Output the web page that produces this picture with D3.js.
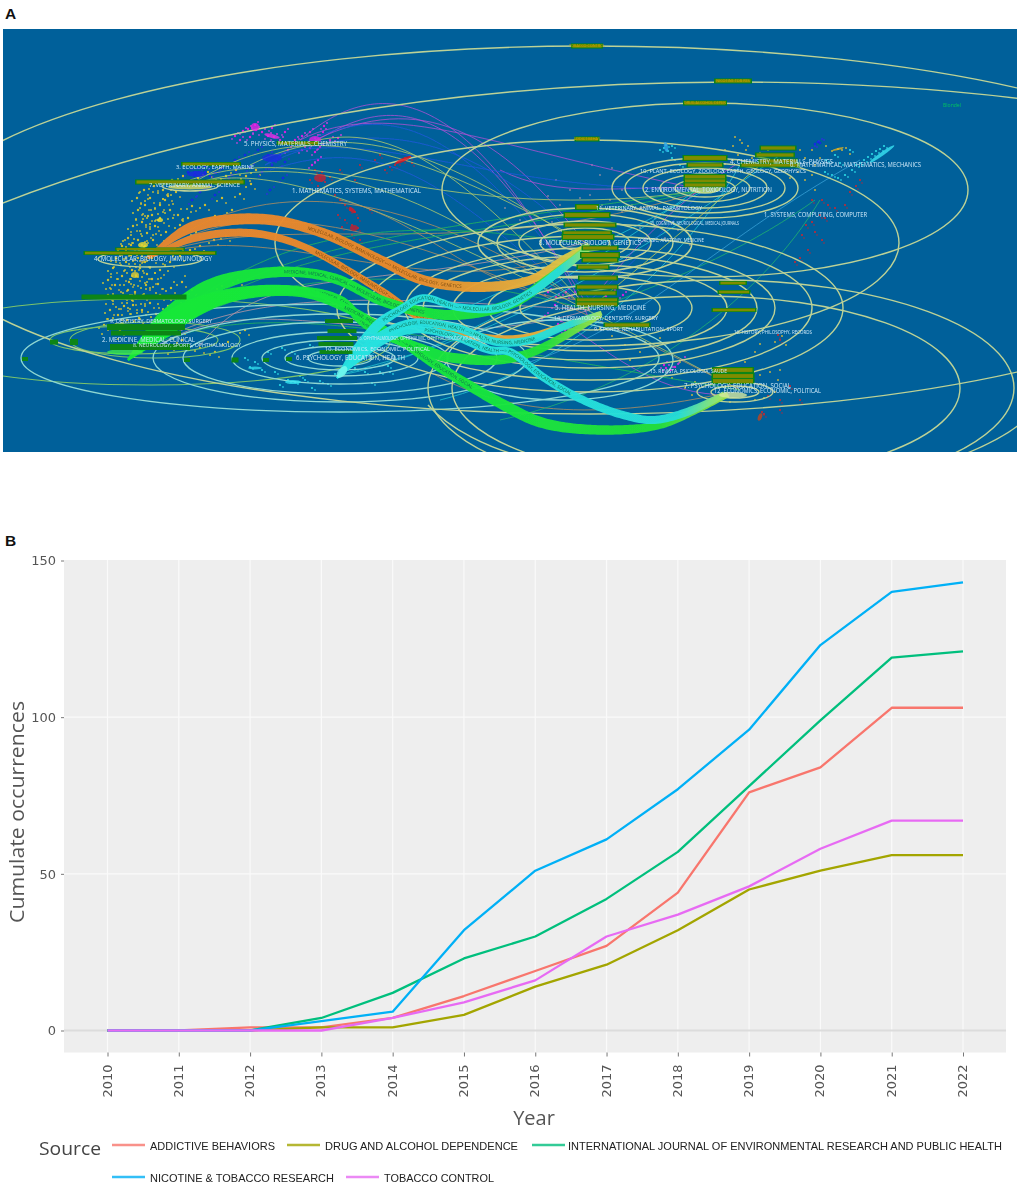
<!DOCTYPE html>
<html>
<head>
<meta charset="utf-8">
<script src="https://cdn.jsdelivr.net/npm/d3@7/dist/d3.min.js"></script>
<style>
html,body{margin:0;padding:0;background:#fff;overflow:hidden}
svg{display:block}
</style>
</head>
<body>
<svg id="c" width="1021" height="1194"></svg>
<script>
// ---------- Panel B data ----------
const years = [2010,2011,2012,2013,2014,2015,2016,2017,2018,2019,2020,2021,2022];
const addictiveBehaviors = [0,0,1,1,4,11,19,27,44,76,84,103,103];
const drugAlcohol       = [0,0,0,1,1,5,14,21,32,45,51,56,56];
const ijerph            = [0,0,0,4,12,23,30,42,57,78,99,119,121];
const nicotineTobacco   = [0,0,0,3,6,32,51,61,77,96,123,140,143];
const tobaccoControl    = [0,0,0,0,4,9,16,30,37,46,58,67,67];
const sourceNames = ["ADDICTIVE BEHAVIORS","DRUG AND ALCOHOL DEPENDENCE","INTERNATIONAL JOURNAL OF ENVIRONMENTAL RESEARCH AND PUBLIC HEALTH","NICOTINE & TOBACCO RESEARCH","TOBACCO CONTROL"];
const sourceColors = ["#F8766D","#A3A500","#00BF7D","#00B0F6","#E76BF3"];
const seriesValues = [addictiveBehaviors,drugAlcohol,ijerph,nicotineTobacco,tobaccoControl];
const yTicks = [0,50,100,150];

// ---------- Panel A data (map units) ----------
const ringsPale = [
 [590,230,672,184],[733,562,1100,480],[705,190,263,87],[587,243,312,103],
 [705,188,93,30],[705,188,80,25],[705,188,62,20],[705,188,45,14],[705,188,30,9],[705,188,15,5],
 [585,243,107,35],[585,243,88,29],[585,243,66,22],[585,243,45,15],[585,243,25,8],
 [590,308,70,22],[590,308,102,32],[590,308,137,43],[590,308,167,52],[590,308,185,60],[590,308,222,72],[590,308,253,84],
 [706,388,254,92],[721,388,293,108],[735,392,38,10],[735,392,24,6],[150,259,52,8],[190,186,28,5]
];
const ringsTeal = [[340,358,32,8],[340,358,55,12],[340,358,78,18],[340,358,108,26],[340,358,157,36],[340,358,187,44],[340,358,319,54],[560,360,113,40]];
const ringsGreen = [[134,340,84,14],[155,340,85,18],[150,342,240,43]];
const paleArcs = [[960,456,985,446,1005,436,1020,424],[428,405,450,430,490,448,520,456]];
const thinCurves = [
 ["#b44fd6",300,140,380,72,470,82,590,320],["#b44fd6",310,145,400,85,470,105,590,310],
 ["#b44fd6",300,140,390,95,500,150,705,190],["#b44fd6",315,140,420,90,500,130,585,243],
 ["#b44fd6",560,320,620,360,660,395,730,395],["#b44fd6",500,170,560,200,620,185,705,188],
 ["#1f57e0",265,165,380,90,450,110,590,300],["#1f57e0",265,165,380,110,480,140,590,250],
 ["#1f57e0",260,160,370,120,470,190,705,190],["#1f57e0",270,170,390,130,450,190,590,310],
 ["#b9d06a",190,185,300,115,400,140,590,245],["#b9d06a",190,185,300,150,420,180,590,310],
 ["#b9d06a",190,185,280,155,420,220,740,390],["#b9d06a",250,165,350,115,440,150,590,250],
 ["#b9d06a",190,180,320,135,440,230,705,190],["#b9d06a",300,145,390,115,460,170,590,310],
 ["#b98f5c",150,257,260,165,420,190,590,310],["#b98f5c",150,257,260,180,430,230,740,390],
 ["#b98f5c",150,257,280,205,460,270,705,190],["#b98f5c",140,262,260,205,440,320,590,245],
 ["#b98f5c",340,200,430,220,480,300,590,300],["#b98f5c",430,372,480,400,560,430,730,392],
 ["#25b85a",130,358,260,220,400,215,590,245],["#25b85a",130,358,250,240,400,235,705,190],
 ["#25b85a",130,358,250,260,420,265,590,310],["#25b85a",130,358,240,285,430,340,740,390],
 ["#25b85a",140,350,280,230,460,245,705,190],
 ["#c59aa5",140,350,250,290,350,295,590,310],["#c59aa5",200,345,270,260,360,295,585,243],
 ["#c59aa5",160,345,260,280,400,365,590,310],
 ["#25c9d5",340,375,400,330,500,300,705,190],["#25c9d5",340,375,420,350,520,340,780,155],
 ["#25c9d5",340,375,430,360,560,290,710,180],["#25c9d5",440,400,560,370,680,270,740,165],
 ["#21b46e",500,420,640,390,760,300,820,200],["#21b46e",590,310,680,280,760,240,815,200],
 ["#3aa0d8",520,365,640,330,700,250,860,160],["#d1d64a",600,300,660,250,720,200,760,165],
 ["#1f57e0",590,300,640,260,680,210,710,185],["#b44fd6",600,290,640,240,680,200,735,165]
];
const ribbons = [
 {name:"MOLECULAR, BIOLOGY, IMMUNOLOGY ---> MOLECULAR, BIOLOGY, GENETICS",kind:"orange",pts:[[148,258],[190,228],[260,219],[320,232],[380,260],[423,280],[477,287],[530,280],[567,257],[590,245]],w:[3,11,11,10,10,10,10,10,8,6]},
 {name:"MOLECULAR, BIOLOGY, IMMUNOLOGY ---> HEALTH, NURSING, MEDICINE",kind:"orange",pts:[[148,258],[195,238],[250,233],[300,245],[380,290],[420,317],[480,337],[523,338],[573,323],[600,314]],w:[3,8,8,7,7,8,8,8,7,5]},
 {name:"MEDICINE, MEDICAL, CLINICAL ---> MOLECULAR, BIOLOGY, GENETICS",kind:"green",pts:[[128,360],[165,320],[215,285],[277,272],[333,278],[380,300],[413,310],[457,315],[513,303],[547,280],[588,247]],w:[2,18,17,11,10,10,10,10,10,9,6]},
 {name:"MEDICINE, MEDICAL, CLINICAL ---> HEALTH, NURSING, MEDICINE",kind:"green",pts:[[128,360],[180,315],[230,295],[290,290],[340,300],[367,325],[433,353],[447,357],[497,360],[530,353],[570,333],[602,314]],w:[2,22,16,11,9,9,9,10,10,9,8,5]},
 {name:"MEDICINE, MEDICAL, CLINICAL ---> PSYCHOLOGY, EDUCATION, SOCIAL",kind:"green",pts:[[128,360],[180,318],[230,296],[300,292],[350,310],[400,340],[433,363],[500,403],[543,423],[603,430],[660,425],[697,410],[730,393]],w:[2,18,13,11,9,8,9,10,11,10,9,7,6]},
 {name:"PSYCHOLOGY, EDUCATION, HEALTH ---> MOLECULAR, BIOLOGY, GENETICS",kind:"cyan",pts:[[337,378],[365,340],[380,323],[400,310],[423,298],[457,307],[497,308],[530,293],[557,273],[590,247]],w:[2,11,10,8,7,8,8,8,8,6]},
 {name:"PSYCHOLOGY, EDUCATION, HEALTH ---> HEALTH, NURSING, MEDICINE",kind:"cyan",pts:[[337,378],[370,345],[380,337],[413,323],[457,328],[497,342],[530,340],[563,327],[602,313]],w:[2,10,10,8,8,8,8,7,5]},
 {name:"PSYCHOLOGY, EDUCATION, HEALTH ---> PSYCHOLOGY, EDUCATION, SOCIAL",kind:"cyan",pts:[[337,378],[375,345],[410,330],[450,335],[490,350],[510,352],[543,377],[583,400],[623,415],[653,420],[687,412],[725,394]],w:[2,9,8,7,8,8,8,8,8,8,8,6]}
];
const ribbonColors = {orange:["#e8862c","#eb8a2a","#e6b23c","#c8d84c"],green:["#14e838","#18e63c","#22e03a","#a4e04c"],cyan:["#28e2e0","#26e0dc","#26dcd8","#a8e45c"]};
const journalBars = [
 [587,46,32,5],[733,81,38,5],[705,103,44,5],[587,139,25,5],
 [587,207,24,6],[587,215,47,6],[590,225,53,5],[587,233,50,5],[588,237,53,6],[600,248,37,5],[600,255,40,6],[600,260,37,5],[593,267,33,5],
 [598,278,40,5],[597,287,43,5],[597,293,40,5],[597,300,43,5],[597,304,43,5],[627,325,47,5],
 [705,158,45,6],[705,165,37,5],[705,177,43,6],[705,181,43,5],[705,185,43,5],
 [778,148,37,5],[775,155,40,5],[770,165,60,5],[778,161,40,5],
 [733,283,28,4],[734,292,33,4],[734,310,45,4],[733,370,42,6],[733,376,43,6],[733,381,43,6],
 [150,253,133,4],[150,249,70,3],[134,297,105,5],[190,182,110,5],[211,164,60,4],[298,143,43,4],
 [146,327,78,6],[146,333,70,5],[150,347,80,6],
 [339,321,28,4],[342,331,29,4],[337,338,40,4],[336,344,35,4],[336,352,33,4],
 [54,342,8,5],[74,342,8,6],[25,359,6,4],[187,360,6,4],[235,360,7,5],[266,360,6,4],[289,359,6,4]
];
const journalNames = ["TOBACCO CONTROL","NICOTINE TOB RES","DRUG ALCOHOL DEPEN","ADDICT BEHAV"];
const disciplineLabels = [
 ["5. PHYSICS, MATERIALS, CHEMISTRY",244,146,103,6.2],["3. ECOLOGY, EARTH, MARINE",176,169,78,5.6],["7. VETERINARY, ANIMAL, SCIENCE",149,187,91,5.6],
 ["1. MATHEMATICS, SYSTEMS, MATHEMATICAL",292,193,129,6.2],["4. MOLECULAR, BIOLOGY, IMMUNOLOGY",94,261,118,6.2],["9. DENTISTRY, DERMATOLOGY, SURGERY",110,323,102,5.6],
 ["2. MEDICINE, MEDICAL, CLINICAL",102,342,93,6.2],["8. NEUROLOGY, SPORTS, OPHTHALMOLOGY",133,347,108,5.4],["10. ECONOMICS, ECONOMIC, POLITICAL",325,351,105,5.6],
 ["6. PSYCHOLOGY, EDUCATION, HEALTH",296,360,109,6.2],["16. OPHTHALMOLOGY, OPHTHALMIC, OPHTHALMOLOGY JOURNAL",357,340,123,4.6],
 ["4. CHEMISTRY, MATERIALS, PHYSICS",730,164,103,6.2],["6. MATHEMATICAL, MATHEMATICS, MECHANICS",790,167,131,6.2],["10. PLANT, ECOLOGY, ZOOLOGY",640,173,85,6],
 ["3. EARTH, GEOLOGY, GEOPHYSICS",721,173,85,6],["2. ENVIRONMENTAL, TOXICOLOGY, NUTRITION",645,192,127,6.2],["1. SYSTEMS, COMPUTING, COMPUTER",764,217,103,6.2],
 ["11. VETERINARY, ANIMAL, PARASITOLOGY",596,210,106,5.6],["15. COGNITIVE, NEUROLOGICAL, MEDICAL JOURNALS",650,225,89,4.6],["FORENSIC, ANATOMY, MEDICINE",638,242,66,4.6],
 ["8. MOLECULAR, BIOLOGY, GENETICS",539,245,102,6.4],["5. HEALTH, NURSING, MEDICINE",555,310,91,6.2],["14. DERMATOLOGY, DENTISTRY, SURGERY",554,320,104,5.6],
 ["9. SPORTS, REHABILITATION, SPORT",594,331,89,5.6],["16. HISTORY, PHILOSOPHY, RECORDS",734,334,78,4.8],["13. REVISTA, PSICOLOGIA, SAUDE",650,373,77,5.6],
 ["7. PSYCHOLOGY, EDUCATION, SOCIAL",684,388,107,6.2],["12. ECONOMICS, ECONOMIC, POLITICAL",714,393,107,6.2]
];
const yellowCloud = [[138,210],[142,222],[147,233],[133,226],[128,238],[152,215],[160,205],[168,196],[176,192],[155,226],[160,218],[170,210],[145,205],[150,198],[165,200],[122,246],[131,245],[138,240],[144,247],[153,240],[166,232],[180,225],[188,218],[118,250],[126,262],[132,270],[140,268],[147,274],[136,276],[129,282],[122,276],[115,285],[146,285],[152,279],[160,270],[170,262],[180,256],[190,250],[200,246],[214,240],[226,236],[128,290],[135,292],[143,295],[118,298],[124,306],[133,305],[142,310],[150,303],[160,295],[171,288],[182,282],[192,290],[113,268],[108,280],[110,310],[118,315],[127,320],[139,318],[156,314],[168,306],[186,300],[204,296],[222,286],[238,280],[120,330],[132,300],[145,262],[152,258],[158,284],[138,258],[131,255],[126,250],[142,252],[148,216],[137,198],[144,190],[154,186],[163,190],[172,180],[183,176],[198,178],[208,172],[216,180],[226,176],[236,170],[246,176],[256,170],[251,184],[240,194],[222,198],[205,205],[192,206],[178,215],[196,232],[215,216],[232,210],[116,258],[108,295],[104,325],[170,345],[182,340],[200,348],[215,352],[228,342],[245,330]];
const goldRightCloud = [[725,150],[733,146],[738,155],[746,150],[752,158],[760,153],[768,150],[776,156],[792,154],[800,150],[805,158],[812,150],[832,151],[838,149],[842,150],[846,148],[826,146],[720,158],[733,160],[742,143],[748,146],[725,164],[815,165],[812,175],[805,180],[815,190],[798,172],[790,178],[735,137],[740,140],[850,154],[820,158],[600,328],[612,336],[625,345],[640,352],[630,360],[645,342],[660,338],[680,362],[695,382],[672,378],[685,388],[700,370],[760,375],[770,372],[778,380],[775,392],[764,398],[755,400],[730,402],[717,399],[692,395],[780,370],[745,362],[755,352],[760,344],[775,342],[782,336],[786,345]];
const magentaCloud = [[255,125],[256,130],[248,129],[262,132],[268,136],[274,137],[280,140],[250,137],[243,131],[272,128],[285,132],[295,140],[302,136],[310,132],[315,138],[310,148],[315,152],[320,147],[324,126],[323,132],[338,138],[330,140],[302,150],[288,150],[240,140],[235,136],[318,160],[312,165],[548,292],[556,297],[566,292],[555,305],[545,316],[558,324],[565,330],[572,295],[615,290],[623,295],[606,296],[664,365],[666,368],[670,370],[675,367],[682,360]];
const blueCloud = [[188,172],[195,175],[205,172],[198,168],[210,176],[222,168],[235,160],[245,155],[258,150],[268,155],[275,160],[280,155],[272,165],[285,162],[210,185],[215,195],[200,192],[225,180],[192,200],[270,190],[283,178],[818,142],[820,143],[815,144],[232,175],[250,167],[262,172],[205,166],[216,173],[196,180]];
const redCloud = [[403,160],[398,162],[405,158],[410,157],[395,165],[390,167],[412,163],[385,170],[375,160],[360,165],[380,155],[315,170],[320,178],[310,180],[325,182],[330,177],[318,186],[322,172],[345,205],[350,210],[355,212],[340,200],[335,195],[338,215],[345,220],[352,225],[358,218],[370,210],[342,227],[352,235],[360,240],[348,245],[358,228],[355,180],[340,170],[822,200],[828,205],[835,208],[845,205],[812,200],[820,215],[812,222],[815,232],[806,225],[822,240],[808,250],[800,258],[795,262],[802,235],[825,218],[860,180],[856,186],[850,192],[780,400],[762,412],[764,414],[768,396],[790,386],[780,410],[800,400],[778,335],[780,340]];
const cyanCloud = [[884,146],[880,149],[876,151],[872,154],[868,157],[864,160],[860,163],[856,165],[852,170],[840,163],[845,175],[838,178],[832,175],[825,172],[850,150],[835,155],[826,160],[666,145],[664,148],[668,151],[660,150],[672,146],[672,158],[680,165],[250,367],[262,370],[275,372],[288,380],[295,382],[305,380],[320,381],[335,374],[345,368],[355,368],[365,372],[328,384],[300,376],[280,385],[312,388],[245,358],[255,362],[268,352],[282,348],[292,352],[310,345],[372,345],[380,372],[390,372],[372,383],[388,366]];
const pinkCloud = [[600,175],[612,168],[622,190],[590,195],[602,205],[580,198],[570,190],[610,200],[622,212],[560,205],[548,196],[632,205],[640,208],[655,218],[570,232],[552,222],[505,208],[520,220],[535,228],[556,180],[592,165],[640,228],[665,238],[678,230],[690,245],[700,260]];
const densityPatches = [
 [882,154,15,1.8,-35,"#38e4f2"],[666,147,2,5,-10,"#2fa5ea"],[838,149,6,1.1,-15,"#e0b020"],[403,160,9,1.8,-25,"#e2141c"],
 [190,187,22,2.6,0,"#e6e25a"],[143,245,5,3,0,"#f2e02a"],[160,220,3,2,0,"#f2e02a"],[135,275,4,3,0,"#e6cf30"],[125,352,18,3,0,"#38e84a"],
 [760,417,2,4,20,"#c0441a"],[255,127,4,4,0,"#e620e6"],[272,136,8,2,15,"#e62ee6"],[315,140,6,4,0,"#d824e0"],
 [197,174,10,3,0,"#1a24e6"],[272,158,10,4,0,"#1a2ce0"],[320,178,6,4,0,"#c8202e"],[352,210,4,2,40,"#e01822"],[354,228,4,3,0,"#c02030"],
 [293,382,8,2,0,"#36e6f2"],[255,368,7,1.4,0,"#30d8ea"],[342,372,7,4,-50,"#7afcf0"],[733,395,14,3,0,"#d5e8a0"],[705,189,16,4,0,"#c2e07a"]
];

// ---------- Layout ----------
const W = 1021;
const svg = d3.select("#c");
const defs = svg.append("defs");
const sf = defs.append("filter").attr("id","soft").attr("x","-2%").attr("y","-2%").attr("width","104%").attr("height","104%");
sf.append("feGaussianBlur").attr("stdDeviation",0.5);
const sfb = defs.append("filter").attr("id","softB").attr("filterUnits","userSpaceOnUse").attr("x",0).attr("y",480).attr("width",W).attr("height",714);
sfb.append("feGaussianBlur").attr("stdDeviation",0.4);
const panelA = {x0:3,x1:1017,y0:29,y1:452};
defs.append("clipPath").attr("id","clipA").append("rect").attr("x",panelA.x0).attr("y",panelA.y0).attr("width",panelA.x1-panelA.x0).attr("height",panelA.y1-panelA.y0);

svg.append("rect").attr("width",W).attr("height",1194).attr("fill","#fff");
svg.append("text").text("A").attr("x",5).attr("y",19).attr("font-family","'Liberation Sans',Arial,sans-serif").attr("font-weight","700").attr("font-size",15.5).attr("fill","#111");
svg.append("text").text("B").attr("x",5).attr("y",546).attr("font-family","'Liberation Sans',Arial,sans-serif").attr("font-weight","700").attr("font-size",15.5).attr("fill","#111");

// ---------- Panel A ----------
const mx = d3.scaleLinear().domain([3,1017]).range([panelA.x0,panelA.x1]);
const my = d3.scaleLinear().domain([29,452]).range([panelA.y0,panelA.y1]);
const A = svg.append("g").attr("clip-path","url(#clipA)").append("g").attr("filter","url(#soft)");
A.append("rect").attr("x",panelA.x0).attr("y",panelA.y0).attr("width",panelA.x1-panelA.x0).attr("height",panelA.y1-panelA.y0).attr("fill","#00619a");

function dots(arr,color,r,op){
  A.append("g").selectAll("circle").data(arr).join("circle")
   .attr("cx",d=>mx(d[0])).attr("cy",d=>my(d[1])).attr("r",r).attr("fill",color).attr("opacity",op);
}
const shifted=(arr,a,b)=>arr.map(d=>[d[0]+a,d[1]+b]);
dots(pinkCloud,"#c59aa5",0.9,0.7);
dots(yellowCloud,"#d9c42e",1.2,0.95);
dots(shifted(yellowCloud,4,5),"#cdb83a",1,0.85);
dots(shifted(yellowCloud,-5,3),"#e2cf2a",1,0.85);
dots(shifted(yellowCloud.filter(d=>d[0]<190&&d[1]>195),3,-6),"#dcc62c",1,0.85);
dots(shifted(yellowCloud.filter(d=>d[0]<175&&d[1]>200),-2,9),"#e0ca2c",1,0.85);
dots(goldRightCloud,"#d7b93a",1,0.9);
dots(magentaCloud,"#e21fe0",1.2,0.95);
dots(shifted(magentaCloud,3,-3),"#e23ae6",1,0.85);
dots(shifted(magentaCloud,-3,3),"#d940e6",0.9,0.8);
dots(blueCloud,"#1a26e6",1.3,0.95);
dots(shifted(blueCloud,-3,4),"#2a2ee0",1,0.85);
dots(shifted(blueCloud,4,-3),"#2a2ee0",1,0.85);
dots(redCloud,"#d8202a",1.1,0.9);
dots(shifted(redCloud,2,3),"#c82030",0.8,0.8);
dots(cyanCloud,"#2be0ea",1.1,0.95);
dots(shifted(cyanCloud,3,2),"#30dcea",0.9,0.8);

const curvePath = d=>{const p=d3.path();p.moveTo(mx(d[1]),my(d[2]));p.bezierCurveTo(mx(d[3]),my(d[4]),mx(d[5]),my(d[6]),mx(d[7]),my(d[8]));return p.toString();};
A.append("g").attr("fill","none").selectAll("path").data(thinCurves).join("path")
 .attr("d",curvePath).attr("stroke",d=>d[0]).attr("stroke-width",0.9).attr("opacity",0.85);

function rings(arr,color,w){
  A.append("g").attr("fill","none").selectAll("ellipse").data(arr).join("ellipse")
   .attr("cx",d=>mx(d[0])).attr("cy",d=>my(d[1])).attr("rx",d=>mx(d[0]+d[2])-mx(d[0])).attr("ry",d=>my(d[1]+d[3])-my(d[1]))
   .attr("stroke",color).attr("stroke-width",w);
}
rings(ringsGreen,"#7cc46a",1.1);
rings(ringsTeal,"#8fd7d2",1.3);
rings(ringsPale,"#bdd296",1.4);
A.append("g").attr("fill","none").selectAll("path").data(paleArcs.map(d=>["",...d])).join("path").attr("d",curvePath).attr("stroke","#bdd296").attr("stroke-width",1.4);

// ribbons built from a centre line through the knots
const lineGen = d3.line().x(d=>mx(d[0])).y(d=>my(d[1])).curve(d3.curveCatmullRom.alpha(0.5));
const ribbonLayer = A.append("g");
ribbons.forEach((r,i)=>{
  const id="rib"+i, c=ribbonColors[r.kind];
  const start=r.pts[0], end=r.pts[r.pts.length-1];
  const g=defs.append("linearGradient").attr("id",id+"g").attr("gradientUnits","userSpaceOnUse")
    .attr("x1",mx(start[0])).attr("y1",0).attr("x2",mx(end[0])).attr("y2",0);
  [[0,c[0]],[0.6,c[1]],[0.88,c[2]],[1,c[3]]].forEach(s=>g.append("stop").attr("offset",s[0]).attr("stop-color",s[1]));
  const cp=defs.append("path").attr("id",id).attr("d",lineGen(r.pts));
  const node=cp.node(), L=node.getTotalLength();
  const wScale=d3.scaleLinear().domain(d3.range(r.w.length).map(k=>k/(r.w.length-1))).range(r.w);
  const left=[],right=[];
  for(let s=0;s<=L;s+=2.5){
    const a=node.getPointAtLength(s), b=node.getPointAtLength(Math.min(L,s+0.5)), z=node.getPointAtLength(Math.max(0,s-0.5));
    const dx=b.x-z.x, dy=b.y-z.y, n=Math.hypot(dx,dy)||1, h=wScale(s/L)/2;
    left.push([a.x-dy/n*h,a.y+dx/n*h]); right.push([a.x+dy/n*h,a.y-dx/n*h]);
  }
  ribbonLayer.append("path").attr("d",d3.line().curve(d3.curveLinear)(left.concat(right.reverse()))+"Z")
    .attr("fill",`url(#${id}g)`).attr("opacity",0.96);
  ribbonLayer.append("text").attr("font-family","'Open Sans',sans-serif").attr("font-size",4.6).attr("fill",r.kind==="orange"?"#7a4a10":"#0d6b50").attr("dy",1.5)
    .append("textPath").attr("href","#"+id).attr("startOffset",(r.kind==="cyan"?"24%":"36%")).text(r.name);
});

A.append("g").selectAll("ellipse").data(densityPatches)
 .join("ellipse").attr("transform",d=>`translate(${mx(d[0])},${my(d[1])}) rotate(${d[4]})`).attr("rx",d=>d[2]).attr("ry",d=>d[3]).attr("fill",d=>d[5]).attr("opacity",0.8);

// journal bars
const bars=A.append("g").selectAll("g").data(journalBars).join("g").attr("transform",d=>`translate(${mx(d[0])},${my(d[1])})`);
bars.append("rect").attr("x",d=>-d[2]/2).attr("y",d=>-d[3]/2).attr("width",d=>d[2]).attr("height",d=>d[3]).attr("fill","#0d8514");
bars.filter(d=>d[2]>20&&(d[1]<290||d[0]>400)).append("rect").attr("x",d=>-d[2]/2+1.5).attr("y",d=>-d[3]*0.32).attr("width",d=>d[2]-3).attr("height",d=>d[3]*0.64).attr("fill","#7f8c00");
A.append("g").selectAll("text").data(journalNames).join("text").text(d=>d)
 .attr("x",(d,i)=>mx(journalBars[i][0])).attr("y",(d,i)=>my(journalBars[i][1]+1.2)).attr("text-anchor","middle")
 .attr("font-family","'Open Sans',sans-serif").attr("font-size",3.8).attr("fill","#c8a000");

A.append("text").text("Blondel").attr("x",mx(943)).attr("y",my(107)).attr("font-family","'Open Sans',sans-serif").attr("font-size",6).attr("textLength",18).attr("lengthAdjust","spacingAndGlyphs").attr("fill","#00c060");

A.append("g").selectAll("text").data(disciplineLabels).join("text").text(d=>d[0])
 .attr("x",d=>mx(d[1])).attr("y",d=>my(d[2])).attr("textLength",d=>d[3]).attr("lengthAdjust","spacingAndGlyphs")
 .attr("font-size",d=>d[4]).attr("font-family","'Open Sans',sans-serif").attr("fill","#cfe9fa");

// ---------- Panel B ----------
const plot={x0:64,x1:1006,y0:560,y1:1052.5};
const x=d3.scaleLinear().domain([2010,2022]).range([107.5,963]);
const y=d3.scaleLinear().domain([0,150]).range([1030.5,560.5]);
const B=svg.append("g").attr("filter","url(#softB)");
B.append("rect").attr("x",plot.x0).attr("y",plot.y0).attr("width",plot.x1-plot.x0).attr("height",plot.y1-plot.y0).attr("fill","#eeeeee");
B.append("g").selectAll("line").data(years).join("line").attr("x1",d=>x(d)).attr("x2",d=>x(d)).attr("y1",plot.y0).attr("y2",plot.y1).attr("stroke","#fafafa").attr("stroke-width",1.2);
B.append("g").selectAll("line").data(yTicks.filter(v=>v>0&&v<150)).join("line").attr("x1",plot.x0).attr("x2",plot.x1).attr("y1",d=>y(d)).attr("y2",d=>y(d)).attr("stroke","#fafafa").attr("stroke-width",1.2);
B.append("line").attr("x1",plot.x0).attr("x2",plot.x1).attr("y1",y(0)).attr("y2",y(0)).attr("stroke","#dcdcdc").attr("stroke-width",2);

const axisFont="'DejaVu Sans',sans-serif";
const gx=B.append("g").attr("transform",`translate(0,${plot.y1})`).call(d3.axisBottom(x).tickValues(years).tickFormat(d3.format("d")).tickSize(4).tickPadding(7));
gx.select(".domain").remove();
gx.selectAll(".tick line").attr("stroke","#777");
gx.selectAll(".tick text").attr("transform","rotate(-90)").attr("text-anchor","end").attr("dx","-12").attr("dy","0").attr("x",0).attr("y",0).attr("alignment-baseline","middle").attr("dominant-baseline","central")
  .attr("font-family",axisFont).attr("font-size",13).attr("fill","#555");
const gy=B.append("g").attr("transform",`translate(${plot.x0},0)`).call(d3.axisLeft(y).tickValues(yTicks).tickFormat(d3.format("d")).tickSize(3).tickPadding(5));
gy.select(".domain").remove();
gy.selectAll(".tick line").attr("stroke","#777");
gy.selectAll(".tick text").attr("font-family",axisFont).attr("font-size",13).attr("fill","#555");

const line=d3.line().x((d,i)=>x(years[i])).y(d=>y(d));
B.append("g").attr("fill","none").selectAll("path").data(seriesValues).join("path")
 .attr("d",line).attr("stroke",(d,i)=>sourceColors[i]).attr("stroke-width",2.3).attr("stroke-linejoin","round");

const titleFont="'Open Sans',sans-serif";
B.append("text").text("Cumulate occurrences").attr("transform","translate(24,812) rotate(-90)").attr("text-anchor","middle").attr("font-family",titleFont).attr("font-size",20).attr("fill","#555").attr("textLength",222).attr("lengthAdjust","spacingAndGlyphs");
B.append("text").text("Year").attr("x",534).attr("y",1125).attr("text-anchor","middle").attr("font-family",titleFont).attr("font-size",20).attr("fill","#555");
B.append("text").text("Source").attr("x",39).attr("y",1155).attr("font-family",titleFont).attr("font-size",19).attr("fill","#444").attr("textLength",62).attr("lengthAdjust","spacingAndGlyphs");

const legendSlots=[[112,1145,150,125],[287,1145,325,193],[532,1145,568,434],[112,1177,150,184],[346,1177,384,110]];
const leg=B.append("g").selectAll("g").data(sourceNames).join("g");
leg.append("line").attr("x1",(d,i)=>legendSlots[i][0]).attr("x2",(d,i)=>legendSlots[i][0]+33).attr("y1",(d,i)=>legendSlots[i][1]).attr("y2",(d,i)=>legendSlots[i][1]).attr("stroke",(d,i)=>sourceColors[i]).attr("stroke-width",2.4).attr("opacity",0.8);
leg.append("text").text(d=>d).attr("x",(d,i)=>legendSlots[i][2]).attr("y",(d,i)=>legendSlots[i][1]+5).attr("textLength",(d,i)=>legendSlots[i][3]).attr("lengthAdjust","spacingAndGlyphs")
 .attr("font-family","'Liberation Sans',Arial,sans-serif").attr("font-size",11.5).attr("fill","#222");
</script>
</body>
</html>
